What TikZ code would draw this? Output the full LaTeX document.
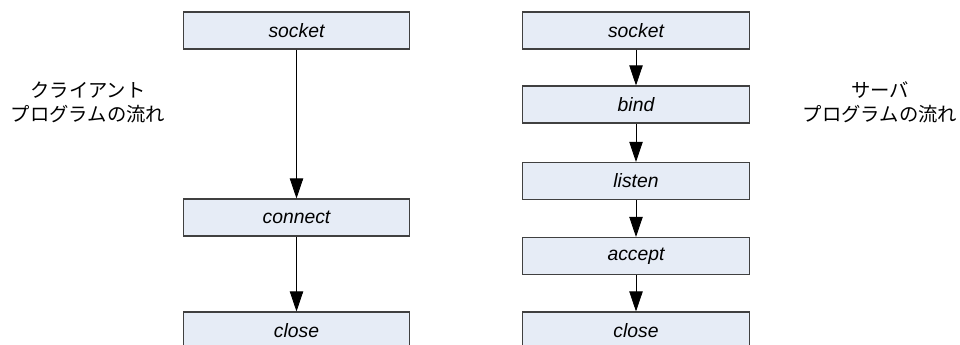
\documentclass[tikz,border=0pt]{standalone}
\usepackage{fontspec}
\setsansfont{Liberation Sans}
\newfontfamily\jpfont{Noto Sans CJK JP}
\usetikzlibrary{arrows.meta}
\definecolor{boxfill}{RGB}{230,236,246}
\definecolor{boxline}{RGB}{64,64,64}

\begin{document}
\begin{tikzpicture}[x=0.75pt,y=-0.75pt]
\tikzstyle{every node}+=[inner sep=0pt]
\tikzstyle{callbox}=[draw=boxline, line width=0.8pt, fill=boxfill, minimum width=170pt, minimum height=27.75pt, font=\sffamily\itshape\fontsize{14.5}{16}\selectfont]
\tikzstyle{flow}=[draw=black, line width=0.6pt, -{Triangle[width=10pt,length=15pt]}]
\tikzstyle{caption}=[align=center, font=\jpfont\fontsize{14.5}{18}\selectfont]
\path[use as bounding box, clip] (0,0) rectangle (960,345);
% client
\node [callbox] (csocket) at (296.5,30.5) {socket};
\node [callbox] (cconnect) at (296.5,217.5) {connect};
\node [callbox] (cclose) at (296.5,330.5) {close};
\draw [flow] (csocket) -- (cconnect);
\draw [flow] (cconnect) -- (cclose);
\node [caption] (clabel) at (88,102) {クライアント\\プログラムの流れ};
% server
\node [callbox] (ssocket) at (636,30.5) {socket};
\node [callbox] (sbind) at (636,104.5) {bind};
\node [callbox] (slisten) at (636,181) {listen};
\node [callbox] (saccept) at (636,256) {accept};
\node [callbox] (sclose) at (636,330.5) {close};
\draw [flow] (ssocket) -- (sbind);
\draw [flow] (sbind) -- (slisten);
\draw [flow] (slisten) -- (saccept);
\draw [flow] (saccept) -- (sclose);
\node [caption] (slabel) at (880,102) {サーバ\\プログラムの流れ};
\end{tikzpicture}
\end{document}
